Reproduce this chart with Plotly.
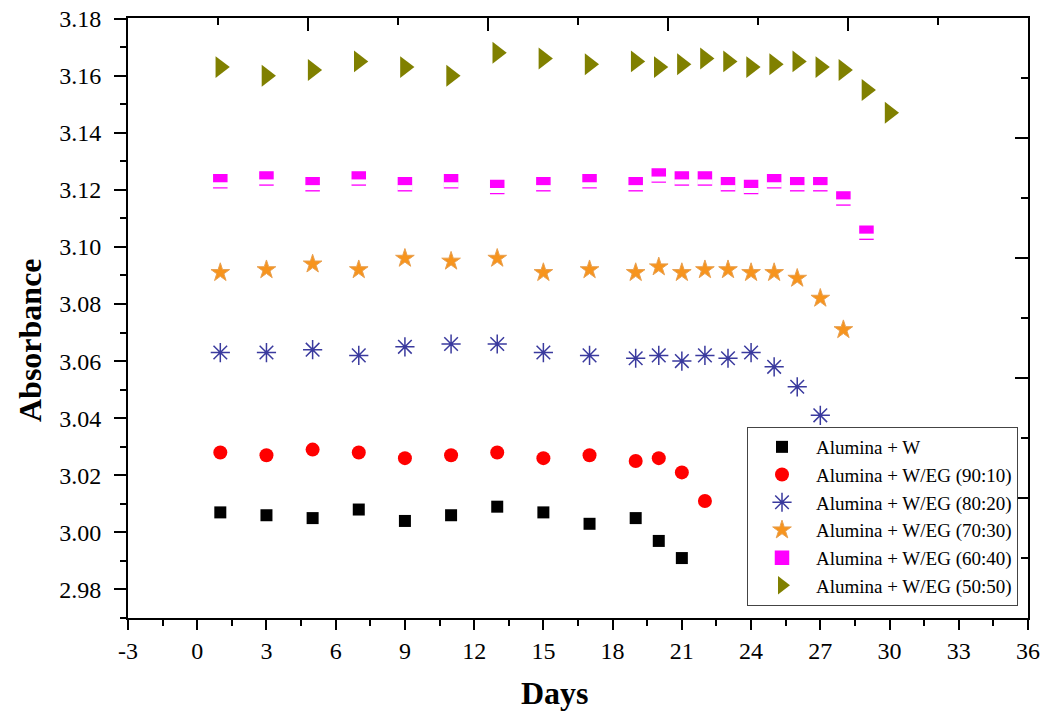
import plotly.graph_objects as go

# ---------------- data ----------------
days_w = [1, 3, 5, 7, 9, 11, 13, 15, 17, 19, 20, 21]
abs_w = [3.007, 3.006, 3.005, 3.008, 3.004, 3.006, 3.009, 3.007, 3.003, 3.005, 2.997, 2.991]

days_9010 = [1, 3, 5, 7, 9, 11, 13, 15, 17, 19, 20, 21, 22]
abs_9010 = [3.028, 3.027, 3.029, 3.028, 3.026, 3.027, 3.028, 3.026, 3.027, 3.025, 3.026, 3.021, 3.011]

days_8020 = [1, 3, 5, 7, 9, 11, 13, 15, 17, 19, 20, 21, 22, 23, 24, 25, 26, 27]
abs_8020 = [3.063, 3.063, 3.064, 3.062, 3.065, 3.066, 3.066, 3.063, 3.062, 3.061, 3.062, 3.060,
            3.062, 3.061, 3.063, 3.058, 3.051, 3.041]

days_7030 = [1, 3, 5, 7, 9, 11, 13, 15, 17, 19, 20, 21, 22, 23, 24, 25, 26, 27, 28]
abs_7030 = [3.091, 3.092, 3.094, 3.092, 3.096, 3.095, 3.096, 3.091, 3.092, 3.091, 3.093, 3.091,
            3.092, 3.092, 3.091, 3.091, 3.089, 3.082, 3.071]

days_6040 = [1, 3, 5, 7, 9, 11, 13, 15, 17, 19, 20, 21, 22, 23, 24, 25, 26, 27, 28, 29]
abs_6040 = [3.123, 3.124, 3.122, 3.124, 3.122, 3.123, 3.121, 3.122, 3.123, 3.122, 3.125, 3.124,
            3.124, 3.122, 3.121, 3.123, 3.122, 3.122, 3.117, 3.105]

days_5050 = [1, 3, 5, 7, 9, 11, 13, 15, 17, 19, 20, 21, 22, 23, 24, 25, 26, 27, 28, 29, 30]
abs_5050 = [3.163, 3.160, 3.162, 3.165, 3.163, 3.160, 3.168, 3.166, 3.164, 3.165, 3.163, 3.164,
            3.166, 3.165, 3.163, 3.164, 3.165, 3.163, 3.162, 3.155, 3.147]

names = ["Alumina + W", "Alumina + W/EG (90:10)", "Alumina + W/EG (80:20)",
         "Alumina + W/EG (70:30)", "Alumina + W/EG (60:40)", "Alumina + W/EG (50:50)"]

x_tick_vals = [-3, 0, 3, 6, 9, 12, 15, 18, 21, 24, 27, 30, 33, 36]
x_tick_text = ["-3", "0", "3", "6", "9", "12", "15", "18", "21", "24", "27", "30", "33", "36"]
y_tick_vals = [2.98, 3.00, 3.02, 3.04, 3.06, 3.08, 3.10, 3.12, 3.14, 3.16, 3.18]
y_tick_text = ["2.98", "3.00", "3.02", "3.04", "3.06", "3.08", "3.10", "3.12", "3.14", "3.16", "3.18"]

x_title = "Days"
y_title = "Absorbance"

# ---------------- figure ----------------
W, H = 1046, 719
ML, MT = 128, 18
plot_w, plot_h = 900, 600
MR = W - ML - plot_w
MB = H - MT - plot_h
# tiny headroom above 3.18 so that the top tick is kept
y_lo, y_hi = 2.97, 3.1802
# pixel offset used to draw the white lower half of the half-filled squares
half_shift_px = 3.5
dy = (y_hi - y_lo) / plot_h * half_shift_px

SERIF = "Liberation Serif, Times New Roman, serif"

fig = go.Figure()

fig.add_trace(go.Scatter(x=days_w, y=abs_w, mode="markers", name=names[0],
                         marker=dict(symbol="square", size=12, color="black",
                                     line=dict(width=0))))
fig.add_trace(go.Scatter(x=days_9010, y=abs_9010, mode="markers", name=names[1],
                         marker=dict(symbol="circle", size=14, color="#FF0000",
                                     line=dict(width=0))))
fig.add_trace(go.Scatter(x=days_8020, y=abs_8020, mode="markers", name=names[2],
                         marker=dict(symbol="asterisk-open", size=16, color="#3a3a9e",
                                     line=dict(width=1.5, color="#3a3a9e"))))
fig.add_trace(go.Scatter(x=days_7030, y=abs_7030, mode="markers", name=names[3],
                         marker=dict(symbol="star", size=14, color="#F7941D",
                                     line=dict(width=1, color="#E8A050"))))
fig.add_trace(go.Scatter(x=days_6040, y=abs_6040, mode="markers", name=names[4],
                         marker=dict(symbol="square", size=13, color="#FF00FF",
                                     line=dict(width=1.5, color="#FF00FF"))))
fig.add_trace(go.Scatter(x=days_5050, y=abs_5050, mode="markers", name=names[5],
                         marker=dict(symbol="triangle-right", size=19, color="#808000",
                                     line=dict(width=0))))
# white lower half of the half-filled magenta squares (same data, offset axis)
fig.add_trace(go.Scatter(x=days_6040, y=abs_6040, mode="markers", showlegend=False,
                         hoverinfo="skip", yaxis="y3",
                         marker=dict(symbol="line-ew", size=11,
                                     line=dict(width=5, color="white"))))
# empty trace so the top / right frame axes get drawn
fig.add_trace(go.Scatter(x=[], y=[], xaxis="x2", yaxis="y2", showlegend=False,
                         hoverinfo="skip"))

axis_font = dict(family=SERIF, size=24, color="black")

fig.update_layout(
    width=W, height=H, autosize=False,
    margin=dict(l=ML, r=MR, t=MT, b=MB, pad=0),
    paper_bgcolor="white", plot_bgcolor="white",
    showlegend=True,
    legend=dict(x=(1018 - ML) / plot_w, xanchor="right",
                y=(618 - 606) / plot_h, yanchor="bottom",
                bgcolor="white", bordercolor="#444444", borderwidth=1,
                font=dict(family=SERIF, size=19, color="black"),
                itemwidth=58, tracegroupgap=0),
    xaxis=dict(range=[-3, 36], tickvals=x_tick_vals, ticktext=x_tick_text,
               ticks="outside", ticklen=10,
               tickwidth=2, tickcolor="black", showline=True, linewidth=2,
               linecolor="black", showgrid=False, zeroline=False, automargin=False,
               tickfont=axis_font, ticklabelstandoff=0, ticklabeloverflow="allow",
               minor=dict(dtick=1.5, tick0=-3, ticks="outside", ticklen=6, tickwidth=1.5,
                          tickcolor="black", showgrid=False)),
    yaxis=dict(range=[y_lo, y_hi], tickvals=y_tick_vals, ticktext=y_tick_text,
               ticks="outside", ticklen=12, tickwidth=2, tickcolor="black",
               showline=True, linewidth=2, linecolor="black", showgrid=False,
               zeroline=False, automargin=False, tickfont=axis_font,
               ticklabelstandoff=8, ticklabeloverflow="allow",
               minor=dict(dtick=0.01, tick0=2.97, ticks="outside", ticklen=6, tickwidth=1.5,
                          tickcolor="black", showgrid=False)),
    xaxis2=dict(overlaying="x", side="top", anchor="y2", range=[0, 10],
                tickvals=[0, 2, 4, 6, 8, 10], ticks="inside", ticklen=13, tickwidth=2,
                tickcolor="black", showticklabels=False, showline=True, linewidth=2,
                linecolor="black", showgrid=False, zeroline=False, automargin=False,
                minor=dict(tickvals=[1, 3, 5, 7, 9], ticks="inside", ticklen=7,
                           tickwidth=2, tickcolor="black", showgrid=False)),
    yaxis2=dict(overlaying="y", side="right", anchor="x2", range=[0, 10],
                tickvals=[0, 2, 4, 6, 8, 10], ticks="inside", ticklen=13, tickwidth=2,
                tickcolor="black", showticklabels=False, showline=True, linewidth=2,
                linecolor="black", showgrid=False, zeroline=False, automargin=False,
                minor=dict(tickvals=[1, 3, 5, 7, 9], ticks="inside", ticklen=7,
                           tickwidth=2, tickcolor="black", showgrid=False)),
    yaxis3=dict(overlaying="y", anchor="x", range=[y_lo + dy, y_hi + dy],
                visible=False, showgrid=False, zeroline=False, automargin=False),
    annotations=[
        dict(text=f"<b>{x_title}</b>", x=(555 - ML) / plot_w, y=-(693 - 618) / plot_h,
             xref="paper", yref="paper", showarrow=False, xanchor="center", yanchor="middle",
             font=dict(family=SERIF, size=32, color="black")),
        dict(text=f"<b>{y_title}</b>", x=(30 - ML) / plot_w, y=(618 - 340) / plot_h,
             xref="paper", yref="paper", showarrow=False, xanchor="center", yanchor="middle",
             textangle=-90, font=dict(family=SERIF, size=32, color="black")),
    ],
)

# place the figure at the very top-left of the page (no default body margin)
fig.write_html("out.html",
               config={"displayModeBar": False},
               post_script="document.body.style.margin='0px';document.body.style.padding='0px';")
